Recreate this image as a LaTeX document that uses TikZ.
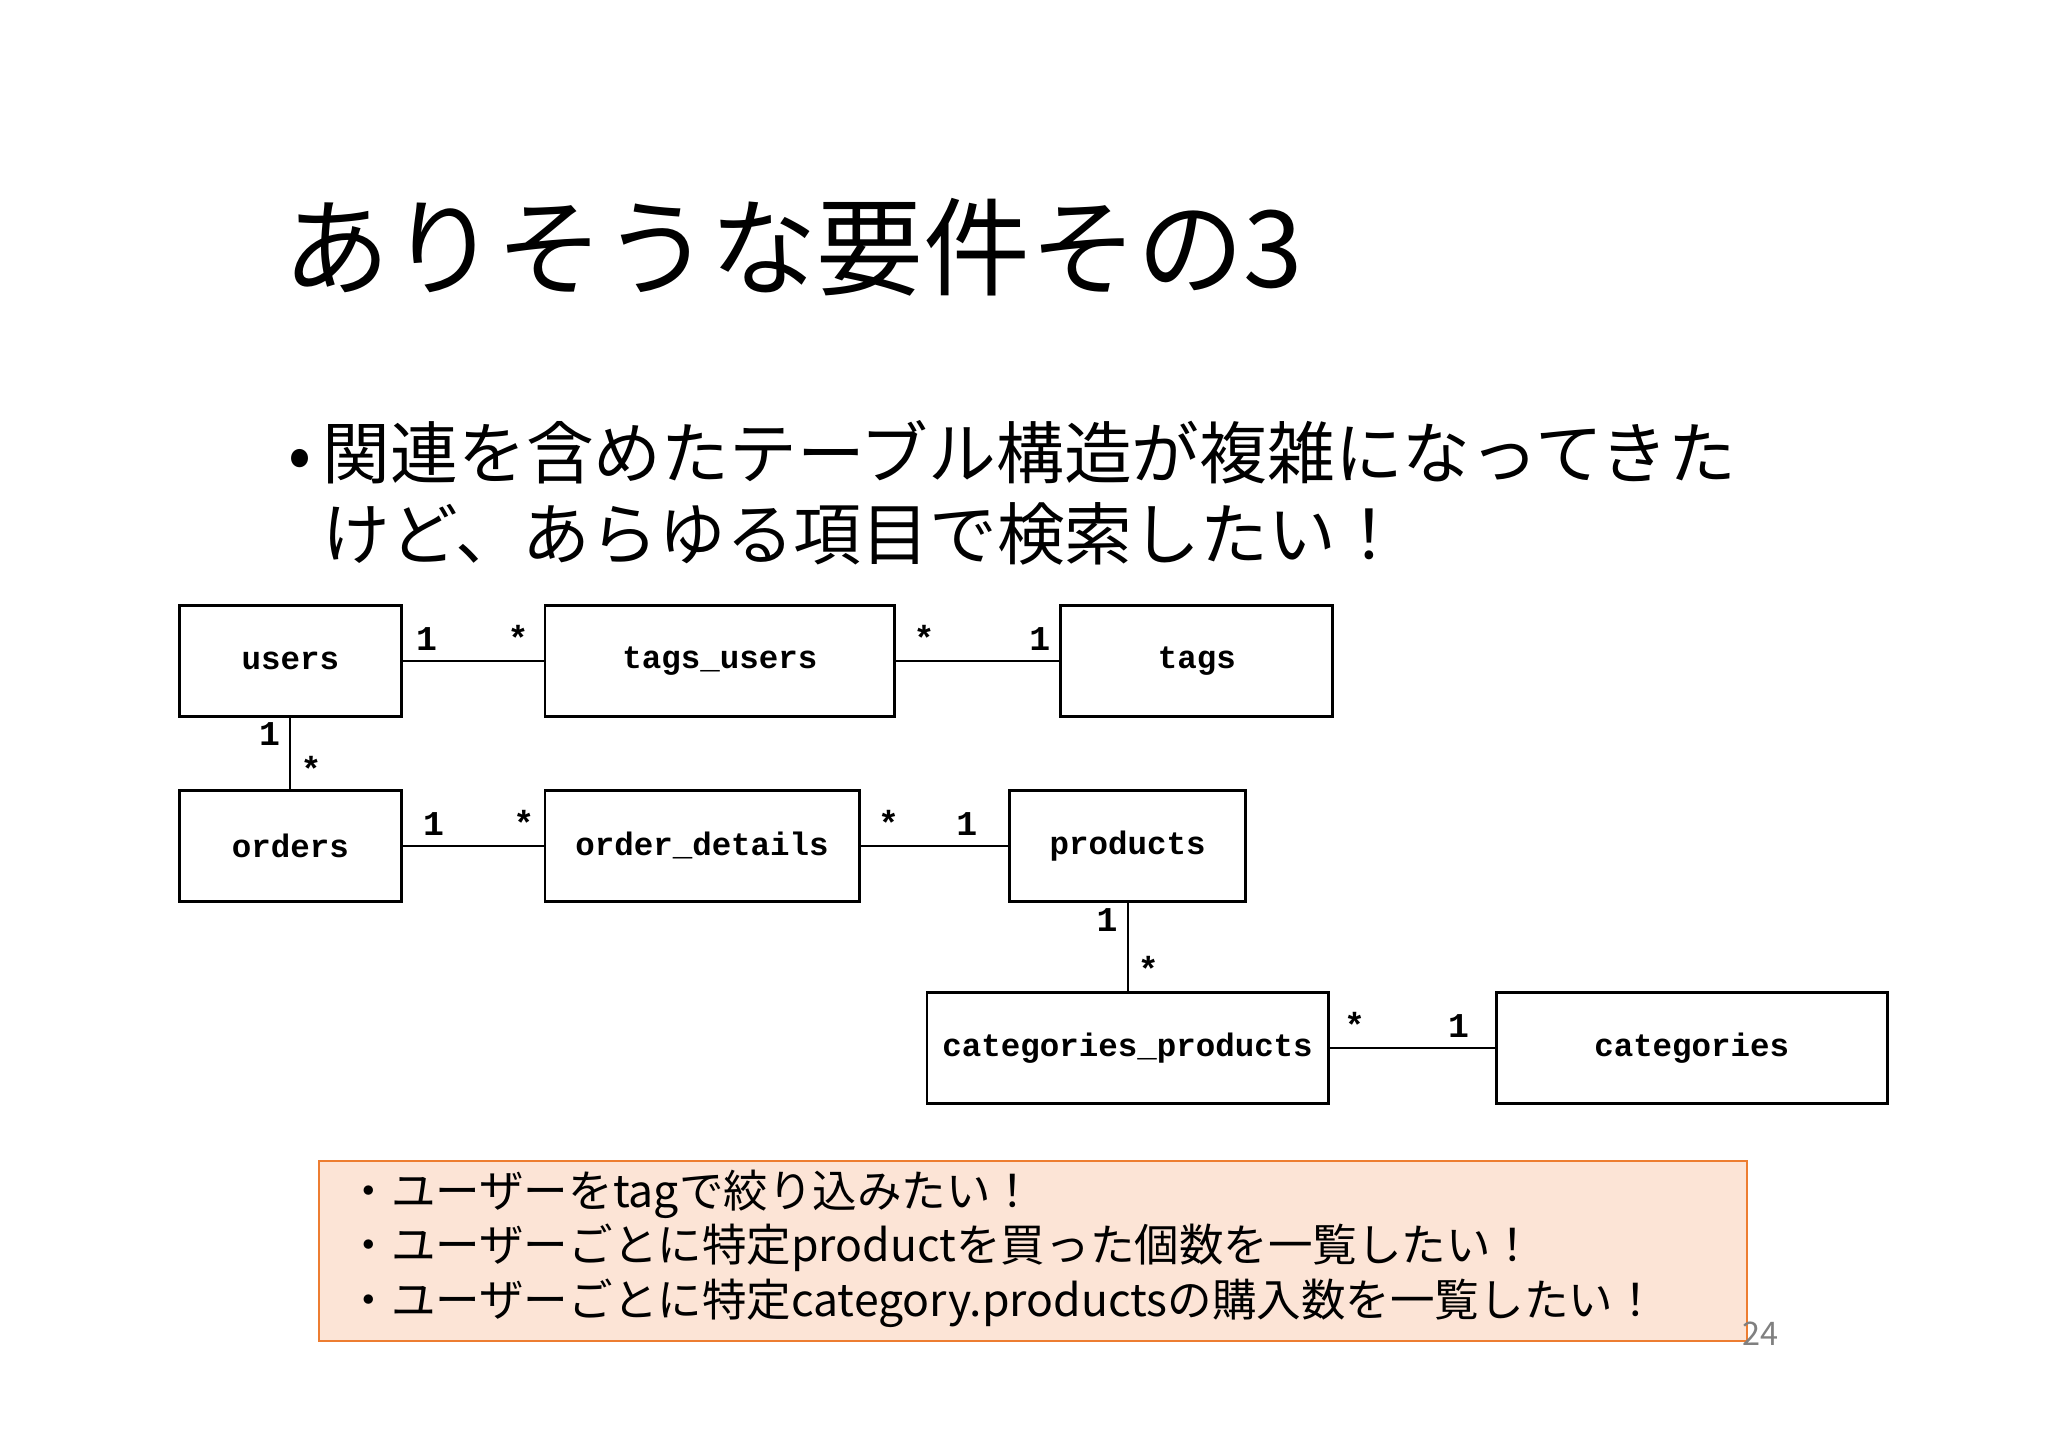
\documentclass[tikz,border=0pt]{standalone}
\usepackage{fontspec}
\setmainfont{Noto Sans CJK JP}
\newfontfamily\tblfont{Liberation Mono}
\begin{document}
\begin{tikzpicture}[x=0.01cm,y=-0.01cm,
    tbl/.style={draw, semithick, minimum height=0.84cm, font=\tblfont\bfseries\fontsize{7}{9}\selectfont},
    mult/.style={font=\tblfont\bfseries\fontsize{7.5}{9}\selectfont, inner sep=2pt}]
    \useasboundingbox (0,0) rectangle (1552,1097);

    \node [anchor=base west, font=\fontsize{23}{28}\selectfont, inner sep=0pt] (titel) at (214,218) {ありそうな要件その3};
    \node [anchor=north west, align=left, font=\fontsize{14.6}{17.5}\selectfont, inner sep=0pt] (punkt) at (218,318)
        {•\,関連を含めたテーブル構造が複雑になってきた\\\hphantom{•\,}けど、あらゆる項目で検索したい！};

    % Tabellen
    \node [tbl, minimum width=1.68cm] (users) at (220,501) {users};
    \node [tbl, minimum width=2.65cm] (tagsusers) at (545.5,501) {tags\_users};
    \node [tbl, minimum width=2.06cm] (tags) at (907,501) {tags};
    \node [tbl, minimum width=1.68cm] (orders) at (220,641) {orders};
    \node [tbl, minimum width=2.38cm] (orderdetails) at (532,641) {order\_details};
    \node [tbl, minimum width=1.79cm] (products) at (854.5,641) {products};
    \node [tbl, minimum width=2.97cm] (catproducts) at (854.5,794) {categories\_products};
    \node [tbl, minimum width=2.96cm] (categories) at (1282,794) {categories};

    % Beziehungen
    \draw (users) -- node[mult, pos=0.17, above] {1} node[mult, pos=0.82, above] {*} (tagsusers);
    \draw (tagsusers) -- node[mult, pos=0.17, above] {*} node[mult, pos=0.88, above] {1} (tags);
    \draw (users) -- node[mult, pos=0.22, left] {1} node[mult, pos=0.72, right] {*} (orders);
    \draw (orders) -- node[mult, pos=0.22, above] {1} node[mult, pos=0.86, above] {*} (orderdetails);
    \draw (orderdetails) -- node[mult, pos=0.19, above] {*} node[mult, pos=0.72, above] {1} (products);
    \draw (products) -- node[mult, pos=0.2, left] {1} node[mult, pos=0.75, right] {*} (catproducts);
    \draw (catproducts) -- node[mult, pos=0.15, above] {*} node[mult, pos=0.78, above] {1} (categories);

    % Hinweis
    \draw [draw={rgb,255:red,237;green,125;blue,49}, fill={rgb,255:red,252;green,228;blue,214}] (242,880) rectangle (1324,1016);
    \node [anchor=north west, align=left, font=\fontsize{9.6}{11.7}\selectfont, inner sep=0pt] (hinweis) at (262,886)
        {・ユーザーをtagで絞り込みたい！\\・ユーザーごとに特定productを買った個数を一覧したい！\\・ユーザーごとに特定category.productsの購入数を一覧したい！};
    \node [text=gray, font=\fontsize{7}{8}\selectfont] (seite) at (1334,1011) {24};
\end{tikzpicture}
\end{document}
